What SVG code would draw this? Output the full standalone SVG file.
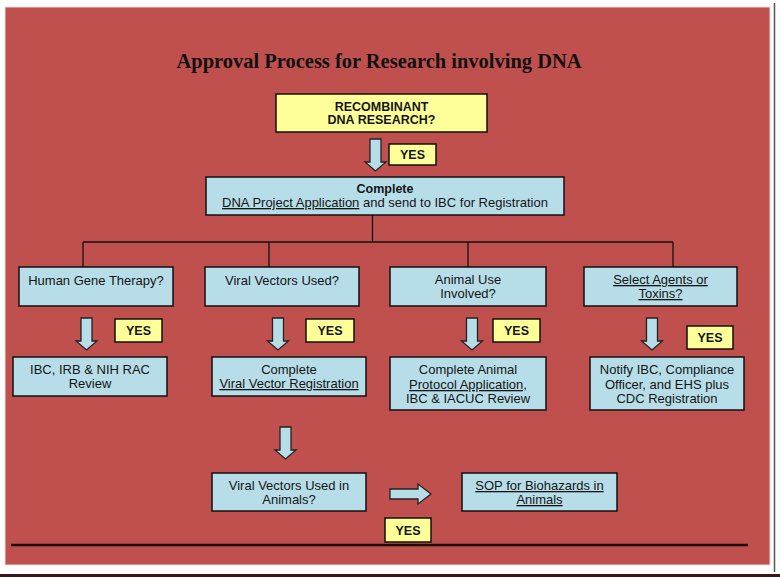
<svg xmlns="http://www.w3.org/2000/svg" width="780" height="580" viewBox="0 0 780 580">
<style>
.box{fill:#b7dde8;stroke:#111;stroke-width:1.5}
.yes{fill:#ffff99;stroke:#111;stroke-width:1.5}
.arr{fill:#b7dde8;stroke:#222;stroke-width:1.3;stroke-linejoin:miter}
.t{font-family:"Liberation Sans",Arial,sans-serif;font-size:13px;fill:#151515;text-anchor:middle}
.b{font-family:"Liberation Sans",Arial,sans-serif;font-size:12.5px;font-weight:bold;fill:#151515;text-anchor:middle}
.u{text-decoration:underline}
.conn{fill:none;stroke:#111;stroke-width:1.3}
</style>
<defs>
<path id="down" d="M-5.5,0 H5.5 V23 H10.5 L0,32 L-10.5,23 H-5.5 Z"/>
</defs>
<rect x="0" y="0" width="780" height="580" fill="#ffffff"/>
<rect x="5" y="7" width="765" height="558" fill="#c0504d" stroke="#e2dede" stroke-width="1"/>
<line x1="774.5" y1="3" x2="774.5" y2="572" stroke="#555" stroke-width="1.5"/>
<line x1="0" y1="575.5" x2="780" y2="575.5" stroke="#3a1515" stroke-width="3"/>
<line x1="11" y1="545" x2="748" y2="545" stroke="#1a0a0a" stroke-width="2.5"/>
<text x="379" y="68" font-family="'Liberation Serif','Times New Roman',serif" font-size="21" font-weight="bold" fill="#111" text-anchor="middle" textLength="405" lengthAdjust="spacingAndGlyphs">Approval Process for Research involving DNA</text>

<g id="connectors">
<path class="conn" d="M372.5,215 V242 M83,242 H673 M83,242 V267 M269,242 V267 M468,242 V267 M673,242 V267"/>
<use href="#down" class="arr" x="375.5" y="139"/>
<use href="#down" class="arr" x="86.5" y="318"/>
<use href="#down" class="arr" x="278" y="318"/>
<use href="#down" class="arr" x="472" y="318"/>
<use href="#down" class="arr" x="652" y="318"/>
<use href="#down" class="arr" x="285.5" y="427"/>
<path class="arr" d="M390,489 H418 V484 L431,494 L418,504 V499 H390 Z"/>
</g>

<g id="yes1"><rect class="yes" x="389" y="144" width="47" height="21"/><text class="b" x="412.5" y="159">YES</text></g>
<g id="yes2"><rect class="yes" x="115" y="319" width="47" height="23"/><text class="b" x="138.5" y="335">YES</text></g>
<g id="yes3"><rect class="yes" x="306" y="319" width="48" height="23"/><text class="b" x="330" y="335">YES</text></g>
<g id="yes4"><rect class="yes" x="493" y="319" width="47" height="23"/><text class="b" x="516.5" y="335">YES</text></g>
<g id="yes5"><rect class="yes" x="687" y="326" width="46" height="23"/><text class="b" x="710" y="342">YES</text></g>
<g id="yes6"><rect class="yes" x="385" y="518" width="46" height="24"/><text class="b" x="408" y="535">YES</text></g>

<g id="recombinant"><rect class="yes" x="276" y="94" width="211" height="38"/>
<text class="b" x="381.5" y="111">RECOMBINANT</text><text class="b" x="381.5" y="124">DNA RESEARCH?</text></g>

<g id="complete"><rect class="box" x="206" y="177" width="358" height="38"/>
<text class="b" x="385" y="193">Complete</text>
<text class="t" x="385" y="207" font-size="12.5"><tspan class="u">DNA Project Application</tspan> and send to IBC for Registration</text></g>

<g id="humangene"><rect class="box" x="19" y="267" width="154" height="39"/>
<text class="t" x="96" y="285">Human Gene Therapy?</text></g>

<g id="viral"><rect class="box" x="205" y="267" width="154" height="39"/>
<text class="t" x="282" y="285">Viral Vectors Used?</text></g>

<g id="animal"><rect class="box" x="390" y="267" width="156" height="39"/>
<text class="t" x="468" y="284">Animal Use</text><text class="t" x="468" y="298">Involved?</text></g>

<g id="select"><rect class="box" x="584" y="267" width="153" height="39"/>
<text class="t u" x="660.5" y="284">Select Agents or</text><text class="t u" x="660.5" y="298">Toxins?</text></g>

<g id="ibcreview"><rect class="box" x="13" y="357" width="154" height="39"/>
<text class="t" x="90" y="374">IBC, IRB &amp; NIH RAC</text><text class="t" x="90" y="388">Review</text></g>

<g id="viralreg"><rect class="box" x="212" y="357" width="154" height="39"/>
<text class="t" x="289" y="374">Complete</text><text class="t u" x="289" y="388">Viral Vector Registration</text></g>

<g id="animalprotocol"><rect class="box" x="390" y="357" width="156" height="53"/>
<text class="t" x="468" y="374">Complete Animal</text><text class="t u" x="468" y="389">Protocol Application,</text><text class="t" x="468" y="403">IBC &amp; IACUC Review</text></g>

<g id="notify"><rect class="box" x="590" y="357" width="154" height="53"/>
<text class="t" x="667" y="374">Notify IBC, Compliance</text><text class="t" x="667" y="389">Officer, and EHS plus</text><text class="t" x="667" y="403">CDC Registration</text></g>

<g id="viralanimals"><rect class="box" x="212" y="473" width="154" height="38"/>
<text class="t" x="289" y="490">Viral Vectors Used in</text><text class="t" x="289" y="504">Animals?</text></g>

<g id="sop"><rect class="box" x="462" y="473" width="155" height="38"/>
<text class="t u" x="539.5" y="490">SOP for Biohazards in</text><text class="t u" x="539.5" y="504">Animals</text></g>
</svg>
